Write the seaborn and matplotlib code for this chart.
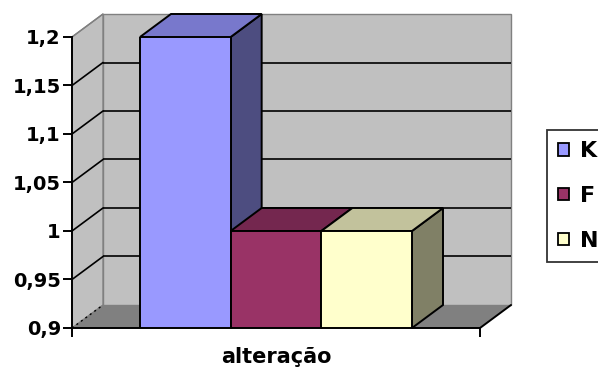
import numpy as np
import pandas as pd
import seaborn as sns
import matplotlib
matplotlib.use("Agg")
import matplotlib.pyplot as plt
from matplotlib.patches import Polygon, Patch
from matplotlib.ticker import FixedLocator

# ---- data ----
categoria = ["alteração"]
series = ["K", "F", "N"]
valores = [1.2, 1.0, 1.0]
y_ticks = [0.9, 0.95, 1.0, 1.05, 1.1, 1.15, 1.2]
y_labels = ["0,9", "0,95", "1", "1,05", "1,1", "1,15", "1,2"]

# colours: front, top and side of each bar
cor_frente = {"K": "#9999FF", "F": "#993366", "N": "#FFFFCC"}
cor_topo = {"K": "#7878CC", "F": "#74274F", "N": "#C2C29C"}
cor_lado = {"K": "#4D4D80", "F": "#4D1A33", "N": "#808066"}

sns.set_theme(style="white")
plt.rcParams["font.family"] = ["DejaVu Sans"]
plt.rcParams["font.weight"] = "bold"
plt.rcParams["text.color"] = "black"

df = pd.DataFrame({
    "categoria": categoria * len(series),
    "serie": series,
    "valor": valores,
})

W, H = 598, 372
fig = plt.figure(figsize=(W / 100, H / 100), dpi=100)
fig.patch.set_facecolor("white")
ax = fig.add_axes([72 / W, 1 - 328 / H, 408 / W, 291 / H])
ax.set_facecolor("none")

ymin, ymax = y_ticks[0], y_ticks[-1]
x0, x1 = -0.5, 0.5
# depth of the pseudo-3D box, in data units
dx = 31 / 408 * (x1 - x0)
dy = 23 / 291 * (ymax - ymin)

# walls and floor
wall = "#C0C0C0"
edge_gray = "#808080"
ax.add_patch(Polygon([(x0 + dx, ymin + dy), (x1 + dx, ymin + dy),
                      (x1 + dx, ymax + dy), (x0 + dx, ymax + dy)],
                     closed=True, facecolor=wall, edgecolor=edge_gray,
                     lw=1.0, clip_on=False, zorder=0.5))
ax.add_patch(Polygon([(x0, ymin), (x0 + dx, ymin + dy),
                      (x0 + dx, ymax + dy), (x0, ymax)],
                     closed=True, facecolor=wall, edgecolor=edge_gray,
                     lw=1.0, clip_on=False, zorder=0.5))

# gridlines on back and side walls
for t in y_ticks[1:-1]:
    ax.plot([x0 + dx, x1 + dx], [t + dy, t + dy], color="black", lw=1.2,
            clip_on=False, zorder=0.6, solid_capstyle="butt")
    ax.plot([x0, x0 + dx], [t, t + dy], color="black", lw=1.2,
            clip_on=False, zorder=0.6)
ax.plot([x0, x0 + dx], [ymax, ymax + dy], color=edge_gray, lw=1.0,
        clip_on=False, zorder=0.6)

ax.add_patch(Polygon([(x0, ymin), (x1, ymin), (x1 + dx, ymin + dy),
                      (x0 + dx, ymin + dy)],
                     closed=True, facecolor="#808080", edgecolor="none",
                     clip_on=False, zorder=0.7))
ax.plot([x0, x0 + dx], [ymin, ymin + dy], color="black", lw=1.0,
        ls=(0, (1.5, 2.5)), clip_on=False, zorder=0.8)
ax.plot([x1, x1 + dx], [ymin, ymin + dy], color="black", lw=1.4,
        clip_on=False, zorder=0.8)

# front faces of the bars
sns.barplot(data=df, x="categoria", y="valor", hue="serie",
            hue_order=series, palette=cor_frente, saturation=1,
            width=2 / 3, edgecolor="black", linewidth=1.4,
            legend=False, ax=ax)

bars = [p for c in ax.containers for p in c]
bars = sorted(bars, key=lambda p: p.get_x())
for i, (bar, nome) in enumerate(zip(bars, series)):
    bx0 = bar.get_x()
    bx1 = bx0 + bar.get_width()
    v = bar.get_y() + bar.get_height()
    z = 2 + i
    bar.set_zorder(z + 0.5)
    # side face
    ax.add_patch(Polygon([(bx1, ymin), (bx1 + dx, ymin + dy),
                          (bx1 + dx, v + dy), (bx1, v)],
                         closed=True, facecolor=cor_lado[nome],
                         edgecolor="black", lw=1.4, clip_on=False,
                         zorder=z, joinstyle="miter"))
    # top face
    ax.add_patch(Polygon([(bx0, v), (bx1, v), (bx1 + dx, v + dy),
                          (bx0 + dx, v + dy)],
                         closed=True, facecolor=cor_topo[nome],
                         edgecolor="black", lw=1.4, clip_on=False,
                         zorder=z, joinstyle="miter"))

ax.set_xlim(x0, x1)
ax.set_ylim(ymin, ymax)

# axes
for s in ["top", "right"]:
    ax.spines[s].set_visible(False)
for s in ["left", "bottom"]:
    ax.spines[s].set_color("black")
    ax.spines[s].set_linewidth(1.4)
    ax.spines[s].set_zorder(10)

ax.set_yticks(y_ticks)
ax.set_yticklabels(y_labels)
ax.tick_params(axis="y", direction="out", length=6.5, width=1.4,
               color="black", labelsize=14, pad=1.5, left=True)
ax.xaxis.set_minor_locator(FixedLocator([x0, x1]))
ax.tick_params(axis="x", which="minor", direction="out", length=6.5,
               width=1.4, color="black", bottom=True)
ax.tick_params(axis="x", which="major", length=0, labelsize=15, pad=14)
for lab in ax.get_xticklabels() + ax.get_yticklabels():
    lab.set_fontweight("bold")
    lab.set_color("black")
ax.set_xlabel("")
ax.set_ylabel("")

# legend
handles = [Patch(facecolor=cor_frente[s], edgecolor="black", lw=1.3)
           for s in series]
leg = fig.legend(handles, series, loc="upper left",
                 bbox_to_anchor=(547 / W, 1 - 130 / H), borderaxespad=0,
                 frameon=True, fancybox=False, edgecolor="black",
                 prop={"weight": "bold", "size": 16},
                 handlelength=0.5, handleheight=0.5, handletextpad=0.5,
                 labelspacing=1.12, borderpad=0.5)
leg.get_frame().set_linewidth(1.3)
for txt in leg.get_texts():
    txt.set_color("black")

fig.savefig("out.png", dpi=100)
